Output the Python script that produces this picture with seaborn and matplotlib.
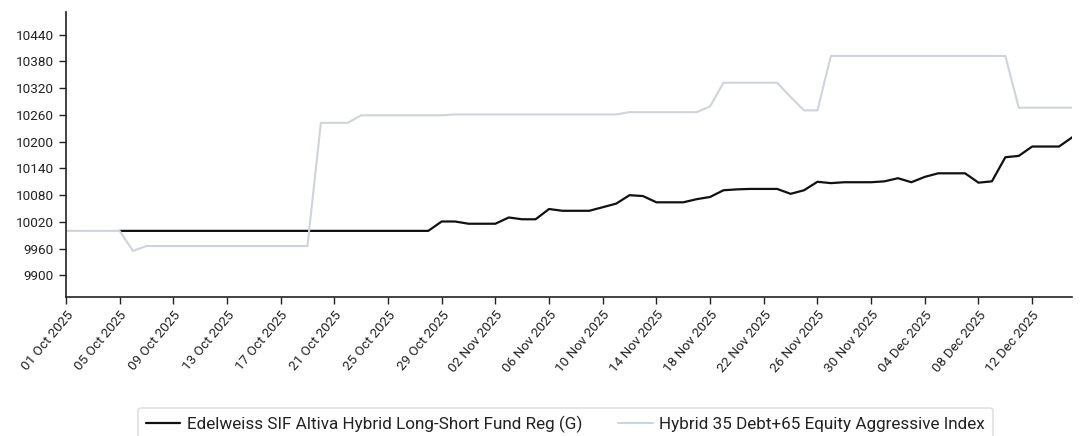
import pandas as pd
import matplotlib
matplotlib.use("Agg")
import matplotlib.pyplot as plt
import matplotlib.dates as mdates
import seaborn as sns

# daily series, 01 Oct 2025 .. 15 Dec 2025
dates = pd.date_range("2025-10-01", "2025-12-15", freq="D")

fund_name = "Edelweiss SIF Altiva Hybrid Long-Short Fund Reg (G)"
index_name = "Hybrid 35 Debt+65 Equity Aggressive Index"

fund = [
    None, None, None, None, 10000, 10000, 10000, 10000, 10000, 10000,
    10000, 10000, 10000, 10000, 10000, 10000, 10000, 10000, 10000, 10000,
    10000, 10000, 10000, 10000, 10000, 10000, 10000, 10000, 10021, 10021,
    10016, 10016, 10016, 10030, 10026, 10026, 10049, 10045, 10045, 10045,
    10053, 10061, 10080, 10078, 10064, 10064, 10064, 10071, 10076, 10091,
    10093, 10094, 10094, 10094, 10083, 10091, 10110, 10107, 10109, 10109,
    10109, 10111, 10118, 10109, 10121, 10129, 10129, 10129, 10108, 10111,
    10165, 10168, 10189, 10189, 10189, 10210,
]

index = [
    10000, 10000, 10000, 10000, 10000, 9955, 9966, 9966, 9966, 9966,
    9966, 9966, 9966, 9966, 9966, 9966, 9966, 9966, 9966, 10242,
    10242, 10242, 10259, 10259, 10259, 10259, 10259, 10259, 10259, 10261,
    10261, 10261, 10261, 10261, 10261, 10261, 10261, 10261, 10261, 10261,
    10261, 10261, 10266, 10266, 10266, 10266, 10266, 10266, 10279, 10332,
    10332, 10332, 10332, 10332, 10300, 10270, 10270, 10392, 10392, 10392,
    10392, 10392, 10392, 10392, 10392, 10392, 10392, 10392, 10392, 10392,
    10392, 10276, 10276, 10276, 10276, 10276,
]

y_ticks = list(range(9900, 10441, 60))

df = pd.DataFrame({"date": dates, "fund": fund, "index": index}).astype({"fund": float})

sns.set_style("white")
plt.rcParams["font.family"] = ["Roboto", "DejaVu Sans"]

fig = plt.figure(figsize=(10.8, 4.36), dpi=100)
ax = fig.add_axes([0.061, 0.319, 0.932, 0.653])

sns.lineplot(data=df, x="date", y="fund", ax=ax, color="#111111", linewidth=1.6, label=fund_name)
sns.lineplot(data=df, x="date", y="index", ax=ax, color="#cfd4da", linewidth=1.5, label=index_name)

ax.set_xlim(dates[0], dates[-1])
ax.set_ylim(9852, 10490)
ax.set_yticks(y_ticks)
ax.set_xticks(pd.date_range("2025-10-01", "2025-12-15", freq="4D"))
ax.xaxis.set_major_formatter(mdates.DateFormatter("%d %b %Y"))
ax.set_xlabel("")
ax.set_ylabel("")

for s in ["top", "right"]:
    ax.spines[s].set_visible(False)
for s in ["left", "bottom"]:
    ax.spines[s].set_color("#222222")
    ax.spines[s].set_linewidth(1.2)

ax.tick_params(axis="both", which="major", length=5, width=1, color="#222222",
               labelsize=9.7, labelcolor="#222222", left=True, bottom=True)
plt.setp(ax.get_xticklabels(), rotation=50, ha="right", rotation_mode="anchor")

leg = ax.legend(loc="upper center", bbox_to_anchor=(0.4965, -0.389), ncol=2,
                fontsize=12.3, frameon=True, fancybox=True, handlelength=2.0,
                handletextpad=0.4, columnspacing=2.1, borderpad=0.45,
                borderaxespad=0)
leg.get_frame().set_edgecolor("#d9d9d9")
leg.get_frame().set_linewidth(1.2)
for t in leg.get_texts():
    t.set_color("#222222")

fig.savefig("out.png", dpi=100)
